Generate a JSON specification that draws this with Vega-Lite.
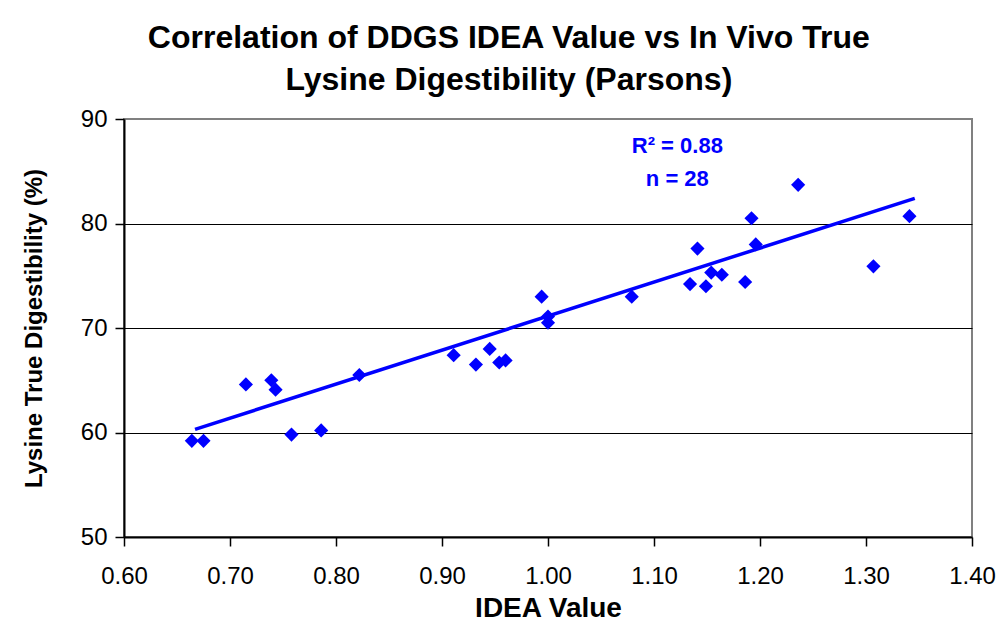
{
  "$schema": "https://vega.github.io/schema/vega-lite/v6.json",
  "width": 848,
  "height": 418,
  "autosize": {"type": "none"},
  "padding": {"left": 124, "top": 119, "right": 28, "bottom": 97},
  "background": "white",
  "title": {
    "text": ["Correlation of DDGS IDEA Value vs In Vivo  True", "Lysine Digestibility (Parsons)"],
    "font": "Liberation Sans",
    "fontSize": 32,
    "fontWeight": "bold",
    "color": "black",
    "anchor": "middle",
    "frame": "bounds",
    "lineHeight": 42,
    "offset": 10
  },
  "config": {
    "font": "Liberation Sans",
    "view": {"stroke": "#808080", "strokeWidth": 2},
    "axis": {
      "labelFont": "Liberation Sans",
      "titleFont": "Liberation Sans",
      "labelColor": "black",
      "titleColor": "black",
      "domainColor": "black",
      "domainWidth": 2,
      "tickColor": "black",
      "tickWidth": 1.5
    }
  },
  "datasets": {
    "points": [
      {"idea": 0.664, "lys": 59.2},
      {"idea": 0.675, "lys": 59.2},
      {"idea": 0.715, "lys": 64.6},
      {"idea": 0.739, "lys": 65.0},
      {"idea": 0.743, "lys": 64.1},
      {"idea": 0.758, "lys": 59.8},
      {"idea": 0.786, "lys": 60.2},
      {"idea": 0.822, "lys": 65.5},
      {"idea": 0.911, "lys": 67.4},
      {"idea": 0.932, "lys": 66.5},
      {"idea": 0.945, "lys": 68.0},
      {"idea": 0.954, "lys": 66.7},
      {"idea": 0.960, "lys": 66.9},
      {"idea": 0.994, "lys": 73.0},
      {"idea": 1.000, "lys": 71.1},
      {"idea": 1.000, "lys": 70.5},
      {"idea": 1.079, "lys": 73.0},
      {"idea": 1.134, "lys": 74.2},
      {"idea": 1.141, "lys": 77.6},
      {"idea": 1.149, "lys": 74.0},
      {"idea": 1.154, "lys": 75.3},
      {"idea": 1.164, "lys": 75.1},
      {"idea": 1.186, "lys": 74.4},
      {"idea": 1.192, "lys": 80.5},
      {"idea": 1.196, "lys": 78.0},
      {"idea": 1.236, "lys": 83.7},
      {"idea": 1.307, "lys": 75.9},
      {"idea": 1.341, "lys": 80.7}
    ],
    "trend": [
      {"idea": 0.667, "lys": 60.3},
      {"idea": 1.346, "lys": 82.4}
    ],
    "notes": [
      {"idea": 1.122, "lys": 87.45, "label": "R² = 0.88"},
      {"idea": 1.122, "lys": 84.22, "label": "n = 28"}
    ]
  },
  "layer": [
    {
      "data": {"name": "points"},
      "mark": {"type": "point", "shape": "diamond", "filled": true, "color": "#0000FF", "size": 200, "opacity": 1},
      "encoding": {
        "x": {
          "field": "idea", "type": "quantitative",
          "scale": {"domain": [0.6, 1.4], "nice": false, "zero": false},
          "axis": {
            "title": "IDEA Value",
            "values": [0.6, 0.7, 0.8, 0.9, 1.0, 1.1, 1.2, 1.3, 1.4],
            "format": ".2f",
            "grid": false,
            "tickSize": 9,
            "labelFontSize": 24,
            "labelPadding": 18,
            "labelFlush": false,
            "labelOverlap": false,
            "titleFontSize": 28,
            "titleFontWeight": "bold",
            "titlePadding": 6
          }
        },
        "y": {
          "field": "lys", "type": "quantitative",
          "scale": {"domain": [50, 90], "nice": false, "zero": false},
          "axis": {
            "title": "Lysine True Digestibility (%)",
            "values": [50, 60, 70, 80, 90],
            "grid": true,
            "gridColor": {"condition": {"test": "datum.value === 90 || datum.value === 50", "value": "#808080"}, "value": "black"},
            "gridWidth": 1,
            "tickSize": 9,
            "labelFontSize": 24,
            "labelPadding": 8,
            "labelFlush": false,
            "labelOverlap": false,
            "titleFontSize": 24,
            "titleFontWeight": "bold",
            "titlePadding": 34
          }
        }
      }
    },
    {
      "data": {"name": "trend"},
      "mark": {"type": "line", "color": "#0000FF", "strokeWidth": 3.5},
      "encoding": {
        "x": {"field": "idea", "type": "quantitative"},
        "y": {"field": "lys", "type": "quantitative"}
      }
    },
    {
      "data": {"name": "notes"},
      "mark": {"type": "text", "color": "#0000FF", "fontSize": 22, "fontWeight": "bold", "font": "Liberation Sans", "align": "center", "baseline": "middle"},
      "encoding": {
        "x": {"field": "idea", "type": "quantitative"},
        "y": {"field": "lys", "type": "quantitative"},
        "text": {"field": "label"}
      }
    }
  ]
}
